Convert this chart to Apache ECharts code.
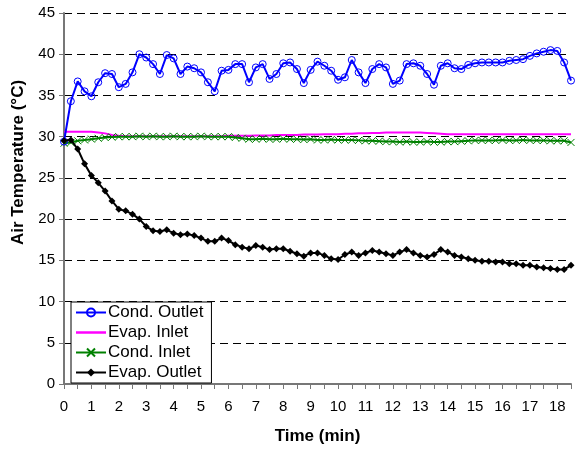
<!DOCTYPE html>
<html>
<head>
<meta charset="utf-8">
<script src="https://cdn.jsdelivr.net/npm/echarts@6/dist/echarts.min.js"></script>
<style>
  html, body { margin: 0; padding: 0; background: #fff; }
  #chart { width: 576px; height: 450px; }
</style>
</head>
<body>
<div id="chart"></div>
<script>
// time in minutes, one reading every 15 s
const times = [
  0, 0.25, 0.5, 0.75, 1, 1.25, 1.5, 1.75, 2, 2.25, 2.5, 2.75, 3, 3.25, 3.5, 3.75,
  4, 4.25, 4.5, 4.75, 5, 5.25, 5.5, 5.75, 6, 6.25, 6.5, 6.75, 7, 7.25, 7.5, 7.75,
  8, 8.25, 8.5, 8.75, 9, 9.25, 9.5, 9.75, 10, 10.25, 10.5, 10.75, 11, 11.25, 11.5, 11.75,
  12, 12.25, 12.5, 12.75, 13, 13.25, 13.5, 13.75, 14, 14.25, 14.5, 14.75, 15, 15.25, 15.5, 15.75,
  16, 16.25, 16.5, 16.75, 17, 17.25, 17.5, 17.75, 18, 18.25, 18.5
];

const condOutlet = [
  29.4, 34.3, 36.7, 35.5, 34.9, 36.6, 37.7, 37.6, 36.0, 36.4, 37.8, 40.0, 39.6, 38.8, 37.6, 39.9,
  39.5, 37.6, 38.5, 38.3, 37.8, 36.6, 35.5, 38.0, 38.1, 38.8, 38.8, 36.6, 38.4, 38.8, 37.0, 37.6,
  38.9, 39.0, 38.2, 36.5, 38.1, 39.1, 38.6, 38.0, 36.9, 37.2, 39.3, 37.8, 36.5, 38.2, 38.8, 38.4,
  36.4, 36.8, 38.8, 38.9, 38.6, 37.6, 36.3, 38.6, 38.9, 38.3, 38.2, 38.7, 38.9, 39.0, 39.0, 39.0,
  39.0, 39.2, 39.3, 39.4, 39.8, 40.1, 40.3, 40.5, 40.4, 39.0, 36.8
];

const evapInlet = [
  30.6, 30.6, 30.6, 30.6, 30.6, 30.5, 30.4, 30.2, 30.1, 30.05, 30.05, 30.05, 30.05, 30.05, 30.05, 30.05,
  30.05, 30.05, 30.05, 30.05, 30.05, 30.05, 30.05, 30.05, 30.1, 30.1, 30.1, 30.1, 30.15, 30.15, 30.15, 30.2,
  30.2, 30.2, 30.2, 30.25, 30.25, 30.25, 30.3, 30.3, 30.3, 30.35, 30.35, 30.4, 30.4, 30.45, 30.45, 30.5,
  30.5, 30.5, 30.5, 30.5, 30.5, 30.45, 30.4, 30.35, 30.3, 30.3, 30.3, 30.3, 30.3, 30.3, 30.3, 30.3,
  30.3, 30.3, 30.3, 30.3, 30.3, 30.3, 30.3, 30.3, 30.3, 30.3, 30.3
];

const condInlet = [
  29.2, 29.3, 29.5, 29.6, 29.7, 29.8, 29.9, 29.95, 30.0, 30.0, 30.0, 30.05, 30.0, 30.05, 30.0, 30.0,
  30.05, 30.0, 30.0, 30.0, 30.05, 30.0, 30.0, 30.0, 30.0, 29.9, 29.8, 29.7, 29.7, 29.75, 29.7, 29.7,
  29.75, 29.7, 29.7, 29.65, 29.7, 29.6, 29.6, 29.65, 29.6, 29.6, 29.6, 29.55, 29.5, 29.5, 29.45, 29.4,
  29.4, 29.35, 29.4, 29.35, 29.35, 29.4, 29.35, 29.35, 29.4, 29.4, 29.45, 29.5, 29.55, 29.55, 29.55, 29.55,
  29.6, 29.55, 29.55, 29.6, 29.55, 29.55, 29.55, 29.5, 29.5, 29.5, 29.3
];

const evapOutlet = [
  29.5, 29.6, 28.5, 26.7, 25.3, 24.4, 23.4, 22.2, 21.2, 21.0, 20.6, 20.0, 19.1, 18.6, 18.5, 18.7,
  18.3, 18.1, 18.2, 18.0, 17.7, 17.3, 17.3, 17.7, 17.4, 16.9, 16.6, 16.4, 16.8, 16.6, 16.3, 16.4,
  16.4, 16.1, 15.8, 15.5, 15.9, 15.9, 15.6, 15.2, 15.1, 15.7, 16.0, 15.6, 15.9, 16.2, 16.0, 15.8,
  15.6, 16.0, 16.3, 15.9, 15.6, 15.4, 15.7, 16.3, 16.0, 15.6, 15.4, 15.2, 15.0, 14.9, 14.9, 14.8,
  14.8, 14.6, 14.6, 14.4, 14.4, 14.2, 14.1, 14.0, 13.9, 13.9, 14.4
];

const seriesNames = ["Cond. Outlet", "Evap. Inlet", "Cond. Inlet", "Evap. Outlet"];

const font = "Liberation Sans, Arial, sans-serif";
const axisGray = "#777";

let myChart = echarts.init(document.getElementById("chart"));

let option = {
  animation: false,
  backgroundColor: "#fff",
  textStyle: { fontFamily: font },
  grid: {
    left: 64,
    right: 5,
    top: 13,
    bottom: 65
  },
  legend: {
    orient: "vertical",
    left: 71,
    top: 302,
    padding: [2, 8, 2, 4],
    itemGap: 3,
    itemWidth: 30,
    itemHeight: 10,
    backgroundColor: "#fff",
    borderColor: "#000",
    borderWidth: 1,
    borderRadius: 0,
    textStyle: { fontFamily: font, fontSize: 17, color: "#000", padding: [0, 0, 0, -3] },
    data: [
      seriesNames[0],
      // plain line icon, that series has no markers
      { name: seriesNames[1], icon: "path://M0,4L24,4L24,6L0,6Z" },
      seriesNames[2],
      seriesNames[3]
    ]
  },
  xAxis: {
    type: "category",
    data: times,
    boundaryGap: false,
    name: "Time (min)",
    nameLocation: "middle",
    nameGap: 44,
    nameTextStyle: { fontFamily: font, fontSize: 17, fontWeight: "bold", color: "#000" },
    axisLine: { lineStyle: { color: axisGray, width: 2 } },
    axisTick: { interval: 1, length: 5, lineStyle: { color: axisGray, width: 1 } },
    axisLabel: {
      interval: 3,
      margin: 15,
      fontSize: 15,
      color: "#000",
      fontFamily: font,
      formatter: function(val) {
        return String(Number(val));
      }
    },
    splitLine: { show: false }
  },
  yAxis: {
    type: "value",
    min: 0,
    max: 45,
    interval: 5,
    name: "Air Temperature (°C)",
    nameLocation: "middle",
    nameGap: 37,
    nameTextStyle: {
      fontFamily: font,
      fontSize: 17,
      fontWeight: "bold",
      color: "#000",
      padding: [0, 0, 0, 72] // pushes the title up, as in the original
    },
    axisLine: { show: true, lineStyle: { color: axisGray, width: 2 } },
    axisTick: { show: true, length: 5, lineStyle: { color: axisGray, width: 1 } },
    axisLabel: { fontSize: 15, color: "#000", margin: 9, fontFamily: font },
    splitLine: { show: true, lineStyle: { color: "#000", type: [8, 5], width: 1 } }
  },
  series: [
    {
      name: seriesNames[0],
      type: "line",
      data: condOutlet,
      symbol: "circle",
      symbolSize: 7,
      showAllSymbol: true,
      lineStyle: { color: "#0000ff", width: 2 },
      itemStyle: { color: "rgba(255,255,255,0)", borderColor: "#0000ff", borderWidth: 1 },
      z: 4
    },
    {
      name: seriesNames[1],
      type: "line",
      data: evapInlet,
      symbol: "none",
      lineStyle: { color: "#ff00ff", width: 2 },
      itemStyle: { color: "#ff00ff" },
      z: 3
    },
    {
      name: seriesNames[2],
      type: "line",
      data: condInlet,
      symbol: "path://M0,0L10,10M10,0L0,10",
      symbolSize: 7,
      showAllSymbol: true,
      lineStyle: { color: "#008000", width: 2 },
      itemStyle: { color: "rgba(0,0,0,0)", borderColor: "#008000", borderWidth: 1 },
      z: 3
    },
    {
      name: seriesNames[3],
      type: "line",
      data: evapOutlet,
      symbol: "diamond",
      symbolSize: 7,
      showAllSymbol: true,
      lineStyle: { color: "#000", width: 2 },
      itemStyle: { color: "#000" },
      z: 5
    }
  ]
};

myChart.setOption(option);
</script>
</body>
</html>
